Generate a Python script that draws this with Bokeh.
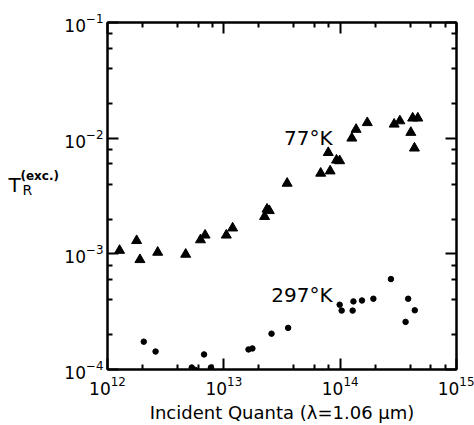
from bokeh.plotting import figure
from bokeh.models import Range1d, FixedTicker, LogAxis, LogTickFormatter, Label, CustomJSTickFormatter
from bokeh.embed import file_html
from bokeh.resources import INLINE

quanta_77 = [1.27e12, 1.78e12, 1.9e12, 2.7e12, 4.7e12, 6.3e12, 6.9e12, 1.05e13, 1.19e13,
             2.24e13, 2.35e13, 2.46e13, 3.5e13, 6.8e13, 7.9e13, 8.2e13, 9.3e13, 9.9e13,
             1.26e14, 1.37e14, 1.71e14, 2.91e14, 3.26e14, 4.05e14, 4.2e14, 4.65e14, 4.35e14]
tr_77 = [1.07e-3, 1.30e-3, 8.9e-4, 1.03e-3, 9.9e-4, 1.32e-3, 1.45e-3, 1.45e-3, 1.67e-3,
         2.1e-3, 2.43e-3, 2.36e-3, 4.07e-3, 4.97e-3, 7.5e-3, 5.2e-3, 6.45e-3, 6.37e-3,
         1.0e-2, 1.19e-2, 1.36e-2, 1.32e-2, 1.41e-2, 1.12e-2, 1.49e-2, 1.49e-2, 8.2e-3]

quanta_297 = [2.05e12, 2.59e12, 5.3e12, 5.7e12, 6.76e12, 7.75e12, 1.63e13, 1.76e13, 2.57e13,
              3.57e13, 9.9e13, 1.03e14, 1.28e14, 1.30e14, 1.54e14, 1.93e14, 2.73e14, 3.65e14,
              3.84e14, 4.38e14]
tr_297 = [1.74e-4, 1.43e-4, 1.04e-4, 9.9e-5, 1.35e-4, 1.04e-4, 1.49e-4, 1.52e-4, 2.04e-4,
          2.29e-4, 3.63e-4, 3.23e-4, 3.23e-4, 3.88e-4, 3.95e-4, 4.09e-4, 6.05e-4, 2.58e-4,
          4.09e-4, 3.25e-4]

x_major = [1e12, 1e13, 1e14, 1e15]
y_major = [1e-4, 1e-3, 1e-2, 1e-1]
minor_mult = [2, 4, 6, 8]
x_minor = [m * d for d in x_major[:-1] for m in minor_mult]
y_minor = [m * d for d in y_major[:-1] for m in minor_mult]

series_labels = ["77°K", "297°K"]
label_x = [8.6e13, 8.6e13]
label_y = [1.0e-2, 4.43e-4]

FONT = "DejaVu Sans"
W, H = 474, 425

p = figure(width=W, height=H, x_axis_type="log", y_axis_type="log",
           x_range=Range1d(1e12, 1e15), y_range=Range1d(1e-4, 1e-1),
           output_backend="svg", toolbar_location=None,
           min_border_left=105, min_border_right=18,
           min_border_top=22, min_border_bottom=55)
p.grid.visible = False
p.outline_line_color = "black"
p.outline_line_width = 2
p.background_fill_color = "white"
p.border_fill_color = "white"

xt = FixedTicker(ticks=x_major, minor_ticks=x_minor)
yt = FixedTicker(ticks=y_major, minor_ticks=y_minor)

def style(ax, show_labels):
    ax.axis_line_width = 2
    ax.axis_line_color = "black"
    ax.major_tick_in = 11
    ax.major_tick_out = 0
    ax.minor_tick_in = 5
    ax.minor_tick_out = 0
    ax.major_tick_line_width = 2
    ax.minor_tick_line_width = 2
    ax.major_tick_line_color = "black"
    ax.minor_tick_line_color = "black"
    if show_labels:
        ax.major_label_text_font = FONT
        ax.major_label_text_font_size = "17px"
        ax.major_label_text_color = "black"
    else:
        ax.formatter = CustomJSTickFormatter(code="return ''")
        ax.major_label_text_font_size = "0px"
        ax.major_label_standoff = 0

xa = p.xaxis[0]
xa.ticker = xt
xa.formatter = LogTickFormatter()
style(xa, True)
xa.major_label_standoff = 6
xa.axis_label = "Incident Quanta (λ=1.06 μm)"
xa.axis_label_text_font = FONT
xa.axis_label_text_font_size = "18px"
xa.axis_label_text_font_style = "normal"
xa.axis_label_text_color = "black"
xa.axis_label_standoff = 4

ya = p.yaxis[0]
ya.ticker = yt
ya.formatter = LogTickFormatter()
style(ya, True)
ya.major_label_standoff = 4

top = LogAxis(ticker=xt)
style(top, False)
p.add_layout(top, "above")
right = LogAxis(ticker=yt)
style(right, False)
p.add_layout(right, "right")

p.scatter(quanta_77, tr_77, marker="triangle", size=10, color="black")
p.scatter(quanta_297, tr_297, marker="circle", size=5.5, color="black")

for t, lx, ly in zip(series_labels, label_x, label_y):
    p.add_layout(Label(x=lx, y=ly, text=t, text_align="right", text_baseline="alphabetic",
                       text_font=FONT, text_font_size="20px", text_color="black"))

# y-axis title T_R^(exc.): each label sits in its own left side panel
# (offsets are relative to the panel each one gets)
for txt, sx, sy, size, st in [("T", -41, 185, "20px", "normal"),
                              ("R", -17, 180, "14px", "normal"),
                              ("(exc.)", 20, 194, "12px", "bold")]:
    p.add_layout(Label(x=sx, y=sy, x_units="screen", y_units="screen", text=txt,
                       text_font=FONT, text_font_size=size, text_font_style=st,
                       text_color="black", text_baseline="alphabetic"), "left")

open("out.html", "w").write(file_html(p, INLINE))
